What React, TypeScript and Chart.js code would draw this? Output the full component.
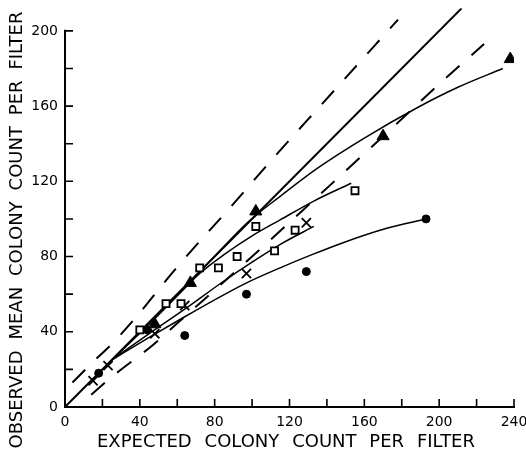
import React, { useEffect, useRef } from 'react';
import { Chart, registerables } from 'chart.js';

Chart.register(...registerables);

// ---- data ----
const triangleX = [48, 67, 102, 170, 238];
const triangleY = [44, 66, 104, 144, 185];
const squareX = [40, 54, 62, 72, 82, 92, 102, 112, 123, 155];
const squareY = [41, 55, 55, 74, 74, 80, 96, 83, 94, 115];
const crossX = [15, 23, 48, 64, 97, 129];
const crossY = [14, 22, 39, 54, 71, 98];
const circleX = [18, 44, 64, 97, 129, 193];
const circleY = [18, 41, 38, 60, 72, 100];

const identityX = [0, 212];
const identityY = [0, 212];
const upperX = [4, 10, 16, 24, 36, 60, 90, 111, 140, 178];
const upperY = [13, 19, 25, 32.5, 45.5, 74.5, 108, 132, 164, 206];
const lowerX = [14, 25, 47, 60, 100, 127, 175, 202, 224];
const lowerY = [6.5, 16, 33, 44.5, 80, 104.5, 148.5, 173.5, 193];

const triCurveX = [25, 50, 75, 98, 115, 135, 160, 188, 210, 234];
const triCurveY = [25, 50, 75, 98.5, 112, 127, 143, 159, 170, 180];
const sqCurveX = [25, 45, 60, 72, 85, 100, 115, 133, 153];
const sqCurveY = [25, 44, 59, 71, 81, 91, 99.5, 109.5, 119];
const crCurveX = [25, 45, 64, 85, 100, 116, 133];
const crCurveY = [25, 39, 52, 67, 77, 87, 96];
const ciCurveX = [25, 45, 64, 80, 96, 115, 132, 149, 172, 193];
const ciCurveY = [25, 37, 48, 57, 65.5, 74, 81, 87.5, 95, 100];

const xTickLabels = [0, 40, 80, 120, 160, 200, 240];
const yTickLabels = [0, 40, 80, 120, 160, 200];
const xMinorTicks = [20, 40, 60, 80, 100, 120, 140, 160, 180, 200, 220, 240];
const yMinorTicks = [20, 40, 60, 80, 100, 120, 140, 160, 180, 200];
const xAxisMax = 240;
const yAxisTop = 200;

const xTitle = 'EXPECTED COLONY COUNT PER FILTER';
const yTitle = 'OBSERVED MEAN COLONY COUNT PER FILTER';

const zip = (xs: number[], ys: number[]) => xs.map((x, i) => ({ x, y: ys[i] }));

const FONT = '"DejaVu Sans", sans-serif';

function drawSpacedText(ctx: CanvasRenderingContext2D, text: string, targetWidth: number) {
  const c: any = ctx;
  c.wordSpacing = '0px';
  const w = ctx.measureText(text).width;
  const spaces = (text.match(/ /g) || []).length;
  const extra = spaces > 0 ? Math.max(0, (targetWidth - w) / spaces) : 0;
  c.wordSpacing = extra + 'px';
  ctx.fillText(text, 0, 0);
  c.wordSpacing = '0px';
}

const axesPlugin = {
  id: 'customAxes',
  afterDraw(chart: any) {
    const { ctx } = chart;
    const xs = chart.scales.x;
    const ys = chart.scales.y;
    const x0 = xs.getPixelForValue(0);
    const y0 = ys.getPixelForValue(0);
    const yTop = ys.getPixelForValue(yAxisTop);
    const xEnd = xs.getPixelForValue(xAxisMax);
    ctx.save();
    ctx.strokeStyle = '#000';
    ctx.lineWidth = 2;
    ctx.lineCap = 'butt';
    ctx.beginPath();
    ctx.moveTo(x0, yTop - 1);
    ctx.lineTo(x0, y0);
    ctx.lineTo(xEnd + 1, y0);
    ctx.stroke();
    ctx.lineWidth = 1.6;
    ctx.beginPath();
    yMinorTicks.forEach((v) => {
      const p = ys.getPixelForValue(v);
      ctx.moveTo(x0, p);
      ctx.lineTo(x0 + 8, p);
    });
    xMinorTicks.forEach((v) => {
      const p = xs.getPixelForValue(v);
      ctx.moveTo(p, y0);
      ctx.lineTo(p, y0 - 8);
    });
    ctx.stroke();

    ctx.fillStyle = '#000';
    ctx.font = '18px ' + FONT;
    ctx.textAlign = 'center';
    ctx.textBaseline = 'alphabetic';
    ctx.save();
    ctx.translate(286, 447);
    drawSpacedText(ctx, xTitle, 378);
    ctx.restore();
    ctx.save();
    ctx.translate(21.5, 230);
    ctx.rotate(-Math.PI / 2);
    drawSpacedText(ctx, yTitle, 437);
    ctx.restore();
    ctx.restore();
  },
};

export default function App() {
  const ref = useRef<HTMLCanvasElement | null>(null);
  useEffect(() => {
    if (!ref.current) return;
    const lineBase = {
      type: 'scatter' as const,
      showLine: true,
      pointRadius: 0,
      pointHoverRadius: 0,
      borderColor: '#000',
      backgroundColor: '#000',
      fill: false,
    };
    const chart = new Chart(ref.current, {
      type: 'scatter',
      data: {
        datasets: [
          {
            label: 'triangles',
            data: zip(triangleX, triangleY),
            pointStyle: 'triangle',
            pointRadius: 7,
            backgroundColor: '#000',
            borderColor: '#000',
            borderWidth: 1,
          },
          {
            label: 'squares',
            data: zip(squareX, squareY),
            pointStyle: 'rect',
            pointRadius: 5,
            backgroundColor: '#fff',
            borderColor: '#000',
            borderWidth: 1.8,
          },
          {
            label: 'crosses',
            data: zip(crossX, crossY),
            pointStyle: 'crossRot',
            pointRadius: 6.5,
            backgroundColor: '#000',
            borderColor: '#000',
            borderWidth: 1.8,
          },
          {
            label: 'circles',
            data: zip(circleX, circleY),
            pointStyle: 'circle',
            pointRadius: 4,
            backgroundColor: '#000',
            borderColor: '#000',
            borderWidth: 1,
          },
          { ...lineBase, label: 'identity', data: zip(identityX, identityY), borderWidth: 2 },
          { ...lineBase, label: 'upper', data: zip(upperX, upperY), borderWidth: 2, borderDash: [18, 16], cubicInterpolationMode: 'monotone' },
          { ...lineBase, label: 'lower', data: zip(lowerX, lowerY), borderWidth: 2, borderDash: [18, 16], cubicInterpolationMode: 'monotone' },
          { ...lineBase, label: 'triCurve', data: zip(triCurveX, triCurveY), borderWidth: 1.5, cubicInterpolationMode: 'monotone' },
          { ...lineBase, label: 'sqCurve', data: zip(sqCurveX, sqCurveY), borderWidth: 1.5, cubicInterpolationMode: 'monotone' },
          { ...lineBase, label: 'crCurve', data: zip(crCurveX, crCurveY), borderWidth: 1.5, cubicInterpolationMode: 'monotone' },
          { ...lineBase, label: 'ciCurve', data: zip(ciCurveX, ciCurveY), borderWidth: 1.5, cubicInterpolationMode: 'monotone' },
        ] as any,
      },
      options: {
        responsive: false,
        animation: false,
        devicePixelRatio: 1,
        events: [],
        layout: { padding: { top: 8, right: 12, left: 0, bottom: 0 } },
        plugins: { legend: { display: false }, tooltip: { enabled: false } },
        scales: {
          x: {
            type: 'linear',
            min: 0,
            max: 240,
            grid: { display: false, drawTicks: false },
            border: { display: false },
            ticks: { color: '#000', font: { family: FONT, size: 14 }, padding: 7, maxRotation: 0, autoSkip: false },
            afterBuildTicks: (s: any) => {
              s.ticks = xTickLabels.map((v) => ({ value: v }));
            },
            afterFit: (s: any) => {
              s.height = 54;
              s.paddingLeft = 0;
              s.paddingRight = 0;
              s.paddingTop = 0;
              s.paddingBottom = 0;
            },
          },
          y: {
            type: 'linear',
            min: 0,
            max: 212,
            grid: { display: false, drawTicks: false },
            border: { display: false },
            ticks: { color: '#000', font: { family: FONT, size: 14 }, padding: 7, autoSkip: false },
            afterBuildTicks: (s: any) => {
              s.ticks = yTickLabels.map((v) => ({ value: v }));
            },
            afterFit: (s: any) => {
              s.width = 65;
              s.paddingLeft = 0;
              s.paddingRight = 0;
              s.paddingTop = 0;
              s.paddingBottom = 0;
            },
          },
        },
      } as any,
      plugins: [axesPlugin],
    });
    return () => chart.destroy();
  }, []);
  return (
    <div style={{ position: 'fixed', left: 0, top: 0, width: 526, height: 461, background: '#fff' }}>
      <canvas ref={ref} width={526} height={461} style={{ display: 'block' }} />
    </div>
  );
}
